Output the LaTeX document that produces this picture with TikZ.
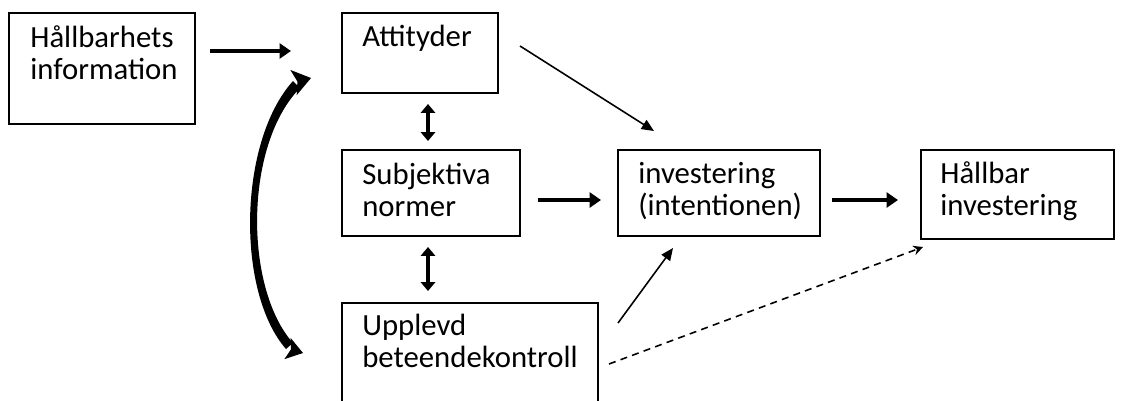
\documentclass[tikz,border=0pt]{standalone}
\usepackage{fontspec}
\setmainfont{Carlito}
\usetikzlibrary{arrows.meta,fit}
\tikzset{
  box/.style={draw, line width=0.8pt, inner sep=0pt},
  txt/.style={anchor=base west, inner sep=0pt, font=\fontsize{17.5pt}{18.7pt}\selectfont},
  thick arrow/.style={line width=2.6pt, -{Triangle[length=6.5pt,width=8.5pt]}},
  dbl arrow/.style={line width=2.4pt, {Triangle[length=5pt,width=8pt]}-{Triangle[length=5pt,width=8pt]}},
  thin arrow/.style={line width=0.9pt, -{Triangle[length=7pt,width=6pt]}},
  dash arrow/.style={line width=0.9pt, dash pattern=on 4pt off 3pt, -{Stealth[length=5.5pt,width=5.5pt]}}
}
\newcommand{\twolines}[2]{\begin{tabular}[t]{@{}l@{}}#1\\#2\end{tabular}}
\begin{document}
\begin{tikzpicture}[x=0.02cm,y=-0.02cm]
\path[use as bounding box] (0,0) rectangle (1125,400);
\clip (0,0) rectangle (1125,400);
\fill[white] (0,0) rectangle (1125,400);
% boxes
\node[box, fit={(9,13) (195,124)}] (hi) {};
\node[box, fit={(342,13) (498,93)}] (att) {};
\node[box, fit={(342,150) (520,236)}] (subj) {};
\node[box, fit={(342,303) (598,430)}] (upp) {};
\node[box, fit={(618,150) (820,236)}] (inv) {};
\node[box, fit={(921,150) (1114,239)}] (hb) {};
% texts
\node[txt] (hiT) at (30,47) {\twolines{Hållbarhets}{information}};
\node[txt] (attT) at (362,46) {Attityder};
\node[txt] (subjT) at (362,184) {\twolines{Subjektiva}{normer}};
\node[txt] (uppT) at (362,335) {\twolines{Upplevd}{beteendekontroll}};
\node[txt] (invT) at (638,183) {\twolines{investering}{(intentionen)}};
\node[txt] (hbT) at (940,183) {\twolines{Hållbar}{investering}};
% connector end points
\coordinate (hiA) at (210,51);  \coordinate (attA) at (291,51);
\coordinate (attB) at (428,104); \coordinate (subjB) at (428,141);
\coordinate (subjC) at (428,247); \coordinate (uppC) at (428,291);
\coordinate (subjD) at (538,200); \coordinate (invD) at (601,200);
\coordinate (invE) at (832,200); \coordinate (hbE) at (898,200);
\coordinate (attF) at (520,46); \coordinate (invF) at (654,131);
\coordinate (uppG) at (618,323); \coordinate (invG) at (673,248);
\coordinate (uppH) at (609,364); \coordinate (hbH) at (923,247);
% arrows
\draw[thick arrow] (hiA) -- (attA);
\draw[dbl arrow] (attB) -- (subjB);
\draw[dbl arrow] (subjC) -- (uppC);
\draw[thick arrow] (subjD) -- (invD);
\draw[thick arrow] (invE) -- (hbE);
\draw[thin arrow] (attF) -- (invF);
\draw[thin arrow] (uppG) -- (invG);
\draw[dash arrow] (uppH) -- (hbH);
% curved double arrow (tapered shaft + notched heads)
\coordinate (tipT) at (311,78);
\coordinate (tipB) at (303,353);
\fill (286,349) .. controls (236,292) and (238,142) .. (293,81)
  -- (300,88) .. controls (244,145) and (244,288) .. (293,343) -- cycle;
\fill (tipT) -- (290.3,69.9) -- (297.4,81.5) -- (296.7,95.1) -- cycle;
\fill (tipB) -- (290.6,337.9) -- (290.9,349.5) -- (284.4,359.1) -- cycle;
\end{tikzpicture}
\end{document}
